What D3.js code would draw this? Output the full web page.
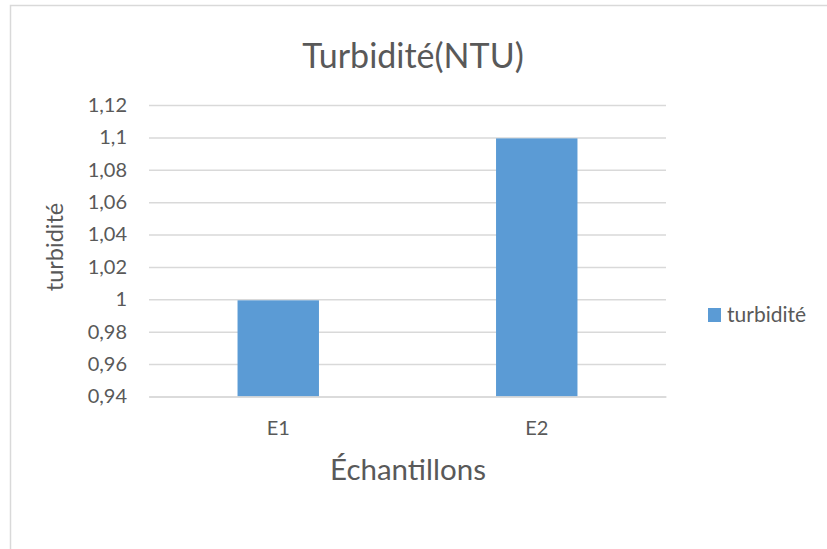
<!DOCTYPE html>
<html>
<head>
<meta charset="utf-8">
<script src="https://cdn.jsdelivr.net/npm/d3@7"></script>
<style>
  html, body { margin: 0; padding: 0; background: #fff; }
  svg { display: block; }
  svg text { font-family: Lato, "Open Sans", sans-serif; }
</style>
</head>
<body>
<svg id="chart" width="827" height="549"></svg>
<script>
// Turbidity per sample
const categories = ["E1", "E2"];
const values = [1.0, 1.1];
const yTicks = [0.94, 0.96, 0.98, 1.0, 1.02, 1.04, 1.06, 1.08, 1.1, 1.12];
const seriesName = "turbidité";

const svg = d3.select("#chart");
const W = 827, H = 549;
const plot = { left: 149, right: 666, top: 105, bottom: 396.5 };
const textColor = "#595959";
const gridColor = "#d9d9d9";
const barColor = "#5b9bd5";
const labelSize = 20;

// chart frame (left and top edges)
svg.append("path")
  .attr("d", `M10.5,${H} L10.5,5.5 L${W},5.5`)
  .attr("fill", "none").attr("stroke", gridColor).attr("stroke-width", 1.5);

const x = d3.scaleBand().domain(categories)
  .range([plot.left, plot.right]).paddingInner(0.685).paddingOuter(0.3425);
const y = d3.scaleLinear().domain([0.94, 1.12]).range([plot.bottom, plot.top]);

const fmt = d => d3.format(".2~f")(d).replace(".", ",");

// horizontal gridlines + value labels
const yAxis = d3.axisLeft(y).tickValues(yTicks).tickFormat(fmt)
  .tickSize(-(plot.right - plot.left)).tickPadding(22);
const gy = svg.append("g").attr("transform", `translate(${plot.left},0)`).call(yAxis)
  .attr("font-family", null).attr("font-size", null);
gy.select(".domain").remove();
gy.selectAll(".tick line").attr("stroke", gridColor).attr("stroke-width", 1.5);
gy.selectAll(".tick text").attr("fill", textColor).attr("font-size", labelSize);

// bars
svg.append("g").selectAll("rect").data(categories).join("rect")
  .attr("x", d => x(d))
  .attr("width", x.bandwidth())
  .attr("y", (d, i) => y(values[i]) + 1)
  .attr("height", (d, i) => plot.bottom - y(values[i]) - 1)
  .attr("fill", barColor);

// category axis
const xAxis = d3.axisBottom(x).tickSize(0).tickPadding(24);
const gx = svg.append("g").attr("transform", `translate(0,${plot.bottom})`).call(xAxis)
  .attr("font-family", null).attr("font-size", null);
gx.select(".domain").attr("stroke", gridColor).attr("stroke-width", 1.5);
gx.selectAll(".tick text").attr("fill", textColor).attr("font-size", labelSize);

// titles
svg.append("text").attr("x", 413).attr("y", 68).attr("text-anchor", "middle")
  .attr("fill", textColor).attr("font-size", 34).text("Turbidité(NTU)");
svg.append("text").attr("x", 408).attr("y", 480).attr("text-anchor", "middle")
  .attr("fill", textColor).attr("font-size", 29.5).text("Échantillons");
svg.append("text")
  .attr("transform", `translate(63,247) rotate(-90)`)
  .attr("text-anchor", "middle").attr("fill", textColor).attr("font-size", 23.5)
  .text("turbidité");

// legend
const lg = svg.append("g").attr("transform", "translate(708,308)");
lg.append("rect").attr("width", 13).attr("height", 14).attr("fill", barColor);
lg.append("text").attr("x", 19).attr("y", 14).attr("fill", textColor)
  .attr("font-size", 21).text(seriesName);
</script>
</body>
</html>
